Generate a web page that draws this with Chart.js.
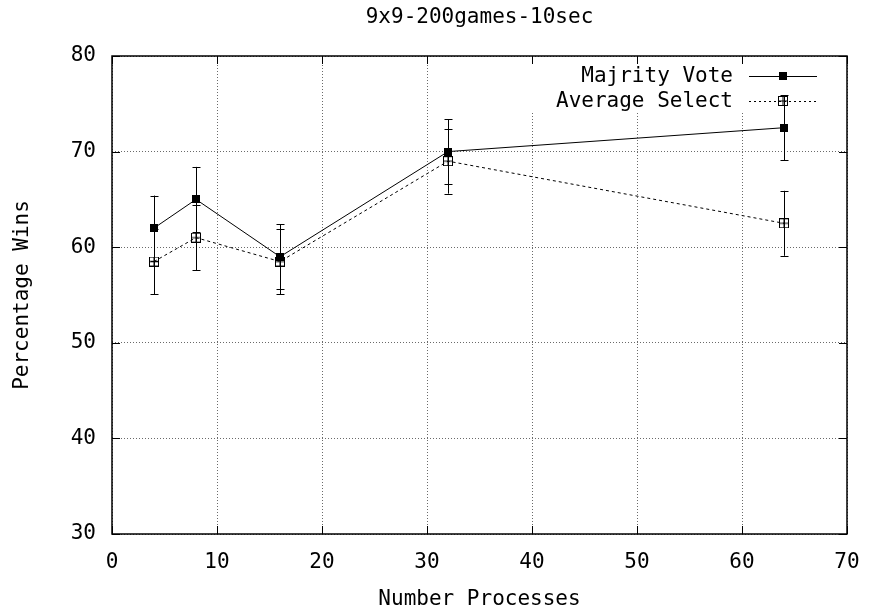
<!DOCTYPE html>
<html>
<head>
<meta charset="utf-8">
<script src="https://cdn.jsdelivr.net/npm/chart.js@4/dist/chart.umd.min.js"></script>
<style>
  html, body { margin: 0; padding: 0; background: #ffffff; }
  #wrap { width: 870px; height: 616px; position: relative; }
</style>
</head>
<body>
<div id="wrap"><canvas id="c" width="870" height="616"></canvas></div>
<script>
// ---- data ----
const chartTitle = '9x9-200games-10sec';
const xAxisTitle = 'Number Processes';
const yAxisTitle = 'Percentage Wins';
const processes = [4, 8, 16, 32, 64];
const majorityVote = [62, 65, 59, 70, 72.5];
const majorityErr = [3.4, 3.4, 3.4, 3.4, 3.4];
const averageSelect = [58.5, 61, 58.5, 69, 62.5];
const averageErr = [3.4, 3.4, 3.4, 3.4, 3.4];
const seriesNames = ['Majrity Vote', 'Average Select'];
const xTickValues = [0, 10, 20, 30, 40, 50, 60, 70];
const yTickValues = [30, 40, 50, 60, 70, 80];

const FONT = 'DejaVu Sans Mono';
Chart.defaults.font.family = FONT;
Chart.defaults.font.size = 21;
Chart.defaults.color = '#000';

// marker images
function filledSquare() {
  const c = document.createElement('canvas');
  c.width = 8; c.height = 8;
  const g = c.getContext('2d');
  g.fillStyle = '#000';
  g.fillRect(0, 0, 8, 8);
  return c;
}
function boxPlus() {
  const c = document.createElement('canvas');
  c.width = 10; c.height = 10;
  const g = c.getContext('2d');
  g.strokeStyle = '#000';
  g.lineWidth = 1;
  g.strokeRect(0.5, 0.5, 9, 9);
  g.beginPath();
  g.moveTo(5, 0.5); g.lineTo(5, 9.5);
  g.moveTo(0.5, 5); g.lineTo(9.5, 5);
  g.stroke();
  return c;
}
const mFilled = filledSquare();
const mBox = boxPlus();

const errs = [majorityErr, averageErr];

const errorBarPlugin = {
  id: 'errorBars',
  beforeDatasetsDraw(chart) {
    const ctx = chart.ctx;
    const xs = chart.scales.x, ys = chart.scales.y;
    // legend white box (clears grid lines)
    ctx.save();
    ctx.fillStyle = '#fff';
    ctx.fillRect(525, chart.chartArea.top + 1, 310, 55);
    ctx.restore();
    chart.data.datasets.forEach((ds, i) => {
      ctx.save();
      ctx.strokeStyle = '#000';
      ctx.lineWidth = 1;
      ds.data.forEach((p, j) => {
        const e = errs[i][j];
        const px = Math.round(xs.getPixelForValue(p.x)) + 0.5;
        const y1 = ys.getPixelForValue(p.y - e);
        const y2 = ys.getPixelForValue(p.y + e);
        ctx.beginPath();
        ctx.moveTo(px, y1); ctx.lineTo(px, y2);
        ctx.moveTo(px - 4, Math.round(y1) + 0.5); ctx.lineTo(px + 4, Math.round(y1) + 0.5);
        ctx.moveTo(px - 4, Math.round(y2) + 0.5); ctx.lineTo(px + 4, Math.round(y2) + 0.5);
        ctx.stroke();
      });
      ctx.restore();
    });
  },
  afterDatasetsDraw(chart) {
    const ctx = chart.ctx;
    const a = chart.chartArea;
    const xs = chart.scales.x, ys = chart.scales.y;
    ctx.save();
    ctx.strokeStyle = '#000';
    // tick marks inside on all four sides
    ctx.lineWidth = 1;
    ctx.beginPath();
    xTickValues.forEach(v => {
      const px = Math.round(xs.getPixelForValue(v)) + 0.5;
      ctx.moveTo(px, a.bottom); ctx.lineTo(px, a.bottom - 8);
      ctx.moveTo(px, a.top); ctx.lineTo(px, a.top + 8);
    });
    yTickValues.forEach(v => {
      const py = Math.round(ys.getPixelForValue(v)) + 0.5;
      ctx.moveTo(a.left, py); ctx.lineTo(a.left + 8, py);
      ctx.moveTo(a.right, py); ctx.lineTo(a.right - 8, py);
    });
    ctx.stroke();
    // border
    ctx.lineWidth = 1.5;
    ctx.strokeRect(a.left, a.top, a.right - a.left, a.bottom - a.top);
    // title
    ctx.fillStyle = '#000';
    ctx.font = '21px "' + FONT + '"';
    ctx.textAlign = 'center';
    ctx.textBaseline = 'middle';
    ctx.fillText(chartTitle, (a.left + a.right) / 2, 18);
    // legend
    const rows = [76, 101];
    ctx.textAlign = 'right';
    seriesNames.forEach((name, i) => {
      const y = rows[i];
      ctx.fillText(name, 733, y + 1);
      ctx.save();
      ctx.lineWidth = 1;
      ctx.beginPath();
      if (i === 1) ctx.setLineDash([2, 3]);
      ctx.moveTo(749, y + 0.5); ctx.lineTo(817, y + 0.5);
      ctx.stroke();
      ctx.restore();
      const img = i === 0 ? mFilled : mBox;
      ctx.drawImage(img, Math.round(783 - img.width / 2), Math.round(y - img.height / 2));
    });
    ctx.restore();
  }
};

const toPts = (ys) => processes.map((x, i) => ({ x: x, y: ys[i] }));

new Chart(document.getElementById('c'), {
  type: 'line',
  data: {
    datasets: [
      {
        label: seriesNames[0],
        data: toPts(majorityVote),
        borderColor: '#000',
        borderWidth: 1,
        pointStyle: mFilled,
        pointRadius: 4,
        tension: 0,
        fill: false
      },
      {
        label: seriesNames[1],
        data: toPts(averageSelect),
        borderColor: '#000',
        borderWidth: 1,
        borderDash: [3, 3],
        pointStyle: mBox,
        pointRadius: 5,
        tension: 0,
        fill: false
      }
    ]
  },
  options: {
    responsive: false,
    animation: false,
    devicePixelRatio: 1,
    layout: { padding: { top: 56, right: 23, left: 0, bottom: 0 } },
    plugins: {
      legend: { display: false },
      title: { display: false },
      tooltip: { enabled: false }
    },
    scales: {
      x: {
        type: 'linear',
        min: 0, max: 70,
        afterBuildTicks(s) { s.ticks = xTickValues.map(v => ({ value: v })); },
        afterFit(s) { s.height = 82; s.paddingLeft = 0; s.paddingRight = 0; },
        ticks: { padding: 16, maxRotation: 0, autoSkip: false, color: '#000' },
        grid: { color: '#6a6a6a', lineWidth: 1, drawTicks: false },
        border: { display: false, dash: [1, 2] },
        title: { display: true, text: xAxisTitle, padding: { top: 0, bottom: 4 }, color: '#000' }
      },
      y: {
        type: 'linear',
        min: 30, max: 80,
        afterBuildTicks(s) { s.ticks = yTickValues.map(v => ({ value: v })); },
        afterFit(s) { s.width = 112; },
        ticks: { padding: 16, color: '#000' },
        grid: { color: '#6a6a6a', lineWidth: 1, drawTicks: false },
        border: { display: false, dash: [1, 2] },
        title: { display: true, text: yAxisTitle, padding: { top: 10, bottom: 0 }, color: '#000' }
      }
    }
  },
  plugins: [errorBarPlugin]
});
</script>
</body>
</html>
